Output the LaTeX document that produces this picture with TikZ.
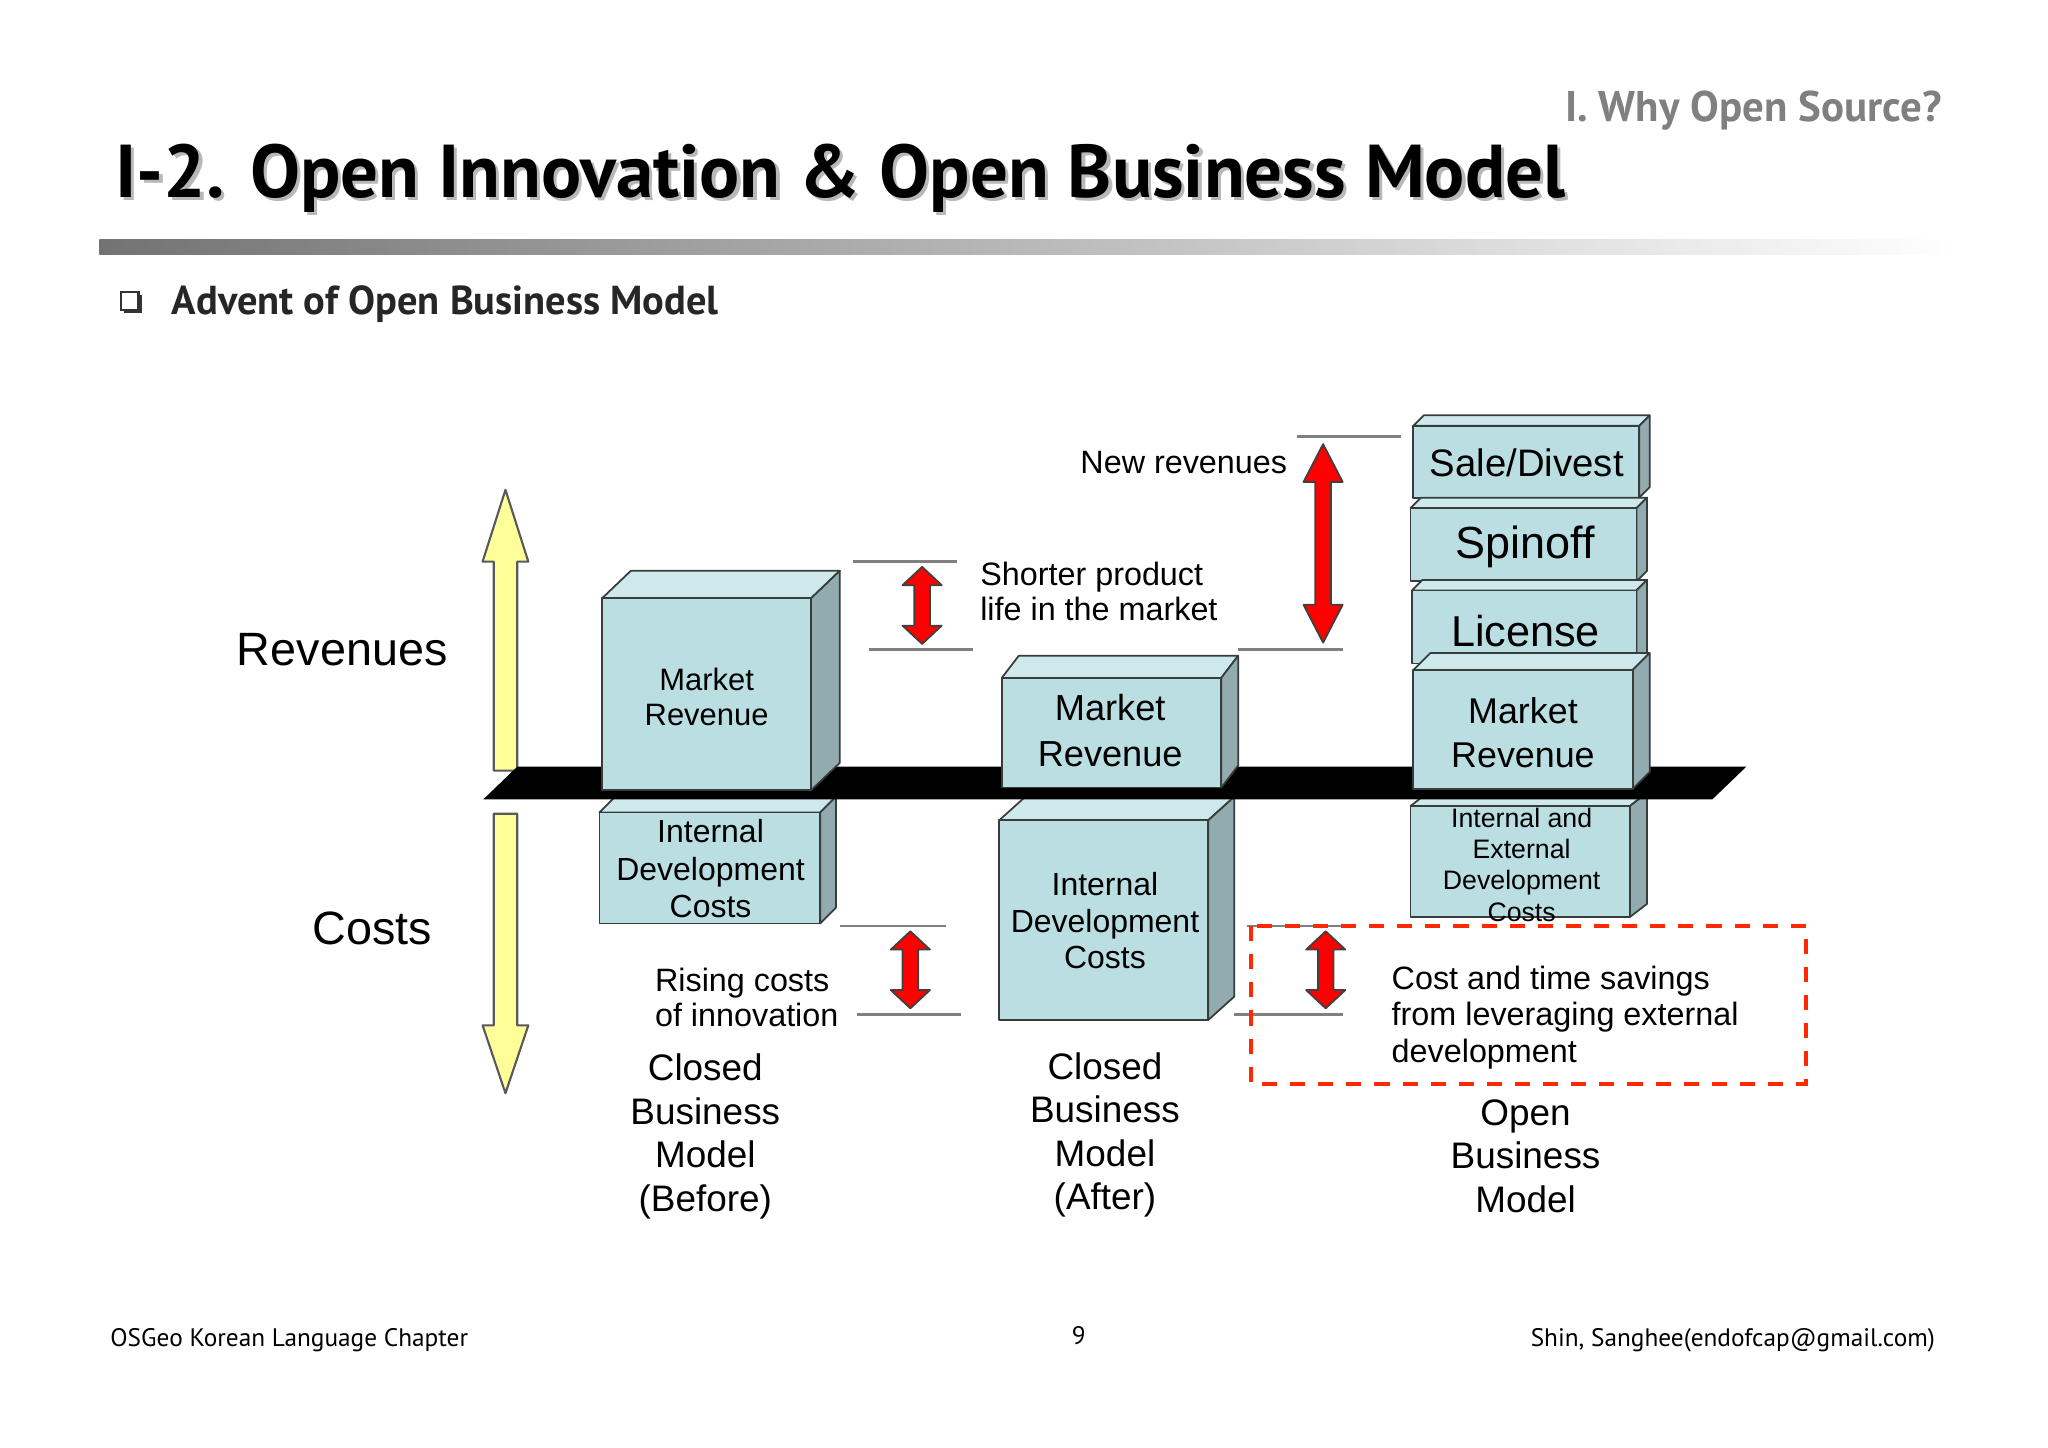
\documentclass[tikz,border=0pt]{standalone}
\usepackage{fontspec}
\setmainfont{Liberation Sans}
\newfontfamily\slidefont{PT Sans}

\definecolor{boxfront}{RGB}{186,222,225}
\definecolor{boxtop}{RGB}{206,233,236}
\definecolor{boxside}{RGB}{146,171,174}
\definecolor{boxline}{RGB}{55,60,60}
\definecolor{arrowyellow}{RGB}{255,255,153}
\definecolor{arrowred}{RGB}{255,0,0}
\definecolor{dashred}{RGB}{255,40,0}
\definecolor{headgray}{RGB}{128,128,128}

% cuboid: front face (x1,y1)-(x2,y2), depth dx,dy
\newcommand{\cuboid}[6]{%
  \draw[boxedge, fill=boxtop] (#1,#2) -- (#1+#5,#2-#6) -- (#3+#5,#2-#6) -- (#3,#2) -- cycle;
  \draw[boxedge, fill=boxside] (#3,#2) -- (#3+#5,#2-#6) -- (#3+#5,#4-#6) -- (#3,#4) -- cycle;
  \draw[boxedge, fill=boxfront] (#1,#2) rectangle (#3,#4);
}

% vertical block double arrow: x, tip top, tip bottom, shaft half, head half, head length
\newcommand{\vdarrow}[6]{%
  \draw[redarrow] (#1,#2) -- (#1+#5,#2+#6) -- (#1+#4,#2+#6) -- (#1+#4,#3-#6)
    -- (#1+#5,#3-#6) -- (#1,#3) -- (#1-#5,#3-#6) -- (#1-#4,#3-#6)
    -- (#1-#4,#2+#6) -- (#1-#5,#2+#6) -- cycle;
}

\begin{document}
\begin{tikzpicture}[x=0.13061mm, y=-0.13061mm,
    boxedge/.style={draw=boxline, line width=0.5pt, line join=round},
    boxtxt/.style={align=center, inner sep=0pt},
    note/.style={align=left, inner sep=0pt, font=\fontsize{9.2}{10}\selectfont},
    guide/.style={draw=headgray, line width=0.8pt},
    redarrow/.style={fill=arrowred, draw=black!75, line width=0.5pt, line join=round},
    yelarrow/.style={fill=arrowyellow, draw=black!65, line width=0.6pt, line join=round},
    modeltxt/.style={align=center, inner sep=0pt, font=\fontsize{10.5}{12.4}\selectfont},
    foot/.style={inner sep=0pt, font=\slidefont\fontsize{7.2}{9}\selectfont}]

    % Page
    \useasboundingbox (0,0) rectangle (1568,1108);
    \fill[white] (0,0) rectangle (1568,1108);

    % Header and title
    \node[anchor=base east, inner sep=0pt, text=headgray,
        font=\slidefont\bfseries\fontsize{12.2}{14}\selectfont] (section) at (1487,93) {I. Why Open Source?};
    \node[anchor=base west, inner sep=0pt, text=black!28,
        font=\slidefont\bfseries\fontsize{21.3}{25}\selectfont] (titleshadow) at (90.5,153.5) {I-2. Open Innovation \& Open Business Model};
    \node[anchor=base west, inner sep=0pt,
        font=\slidefont\bfseries\fontsize{21.3}{25}\selectfont] (title) at (88,151) {I-2. Open Innovation \& Open Business Model};

    % Gradient rule
    \shade[left color=black!55, right color=white] (76,183) rectangle (1500,195);

    % Bullet heading
    \fill[black!80] (95,226) rectangle (109,240);
    \draw[black!80, fill=white, line width=0.6pt] (92.5,223.5) rectangle (106,237);
    \node[anchor=base west, inner sep=0pt, text=black!85,
        font=\slidefont\bfseries\fontsize{11.5}{13}\selectfont] (subhead) at (131,241) {Advent of Open Business Model};

    % Revenue / cost axis arrows
    \draw[yelarrow] (387,375) -- (404.5,430) -- (396,430) -- (396,590) -- (378,590) -- (378,430) -- (369.5,430) -- cycle;
    \draw[yelarrow] (387,837) -- (404.5,785) -- (396,785) -- (396,623) -- (378,623) -- (378,785) -- (369.5,785) -- cycle;
    \node[inner sep=0pt, font=\fontsize{13.3}{15}\selectfont] (revenues) at (262,497) {Revenues};
    \node[inner sep=0pt, font=\fontsize{13.3}{15}\selectfont] (costs) at (285,711) {Costs};

    % Cost boxes (below the platform)
    \cuboid{459}{622}{628}{707}{12}{12}
    \cuboid{765}{628}{925}{781}{20}{18}
    \cuboid{1080}{617}{1248}{702}{13}{10}

    % Platform
    \fill (370,612) -- (396,587) -- (1337,587) -- (1311,612) -- cycle;

    % Revenue boxes (on the platform)
    \cuboid{461}{458}{621}{605}{22}{21}
    \cuboid{767}{519}{935}{603}{13}{17}
    \cuboid{1082}{326}{1255}{381}{8}{8}
    \cuboid{1080}{389}{1253}{445}{8}{8}
    \cuboid{1081}{452}{1253}{508}{8}{8}
    \cuboid{1082}{513}{1250}{604}{13}{13}

    % Box texts
    \node[boxtxt, font=\fontsize{8.8}{10}\selectfont] (mrBefore) at (541,533.5) {Market\\Revenue};
    \node[boxtxt, font=\fontsize{9.1}{10.8}\selectfont] (idcBefore) at (544,665) {Internal\\Development\\Costs};
    \node[boxtxt, font=\fontsize{10.3}{13}\selectfont] (mrAfter) at (850,559.5) {Market\\Revenue};
    \node[boxtxt, font=\fontsize{9.1}{10.4}\selectfont] (idcAfter) at (846,705) {Internal\\Development\\Costs};
    \node[boxtxt, font=\fontsize{10.9}{13}\selectfont] (sale) at (1169,354) {Sale/Divest};
    \node[boxtxt, font=\fontsize{12.8}{15}\selectfont] (spinoff) at (1168,419) {Spinoff};
    \node[boxtxt, font=\fontsize{12.3}{15}\selectfont] (license) at (1168,483) {License};
    \node[boxtxt, font=\fontsize{10.2}{12.6}\selectfont] (mrOpen) at (1166,561) {Market\\Revenue};
    \node[boxtxt, font=\fontsize{7.6}{8.9}\selectfont] (ideOpen) at (1165,662) {Internal and\\External\\Development\\Costs};

    % Model labels
    \node[modeltxt] (closedBefore) at (540,870) {Closed\\Business\\Model\\(Before)};
    \node[modeltxt] (closedAfter) at (846,869) {Closed\\Business\\Model\\(After)};
    \node[modeltxt] (openModel) at (1168,885) {Open\\Business\\Model};

    % Shorter product life
    \draw[guide] (653,430) -- (733,430);
    \draw[guide] (665,497) -- (745,497);
    \vdarrow{706}{434}{493}{6}{15}{14}
    \node[note, anchor=west] (shorter) at (750,452.5) {Shorter product\\life in the market};

    % New revenues
    \draw[guide] (993,334) -- (1073,334);
    \draw[guide] (948,497) -- (1028,497);
    \vdarrow{1013}{340}{492}{6}{15}{29}
    \node[note, anchor=east] (newrev) at (986,354) {New revenues};

    % Rising costs
    \draw[guide] (643,709) -- (724,709);
    \draw[guide] (656,777) -- (736,777);
    \vdarrow{697}{713}{772}{6}{15}{14}
    \node[note, anchor=west] (rising) at (501,763.5) {Rising costs\\of innovation};

    % Cost and time savings
    \draw[guide] (955,709) -- (1035,709);
    \draw[guide] (945,777) -- (1028,777);
    \vdarrow{1015}{713}{772}{6}{15}{14}
    \draw[dashred, line width=1.1pt, dash pattern=on 4.3pt off 3.7pt] (958,709) rectangle (1383,830);
    \node[note, anchor=west, font=\fontsize{9.2}{10.4}\selectfont] (savings) at (1065,779) {Cost and time savings\\from leveraging external\\development};

    % Footer
    \node[foot, anchor=base west] (chapter) at (84,1031) {OSGeo Korean Language Chapter};
    \node[foot, anchor=base] (pageno) at (826,1029) {9};
    \node[foot, anchor=base east] (author) at (1482,1031) {Shin, Sanghee(endofcap@gmail.com)};

\end{tikzpicture}
\end{document}
